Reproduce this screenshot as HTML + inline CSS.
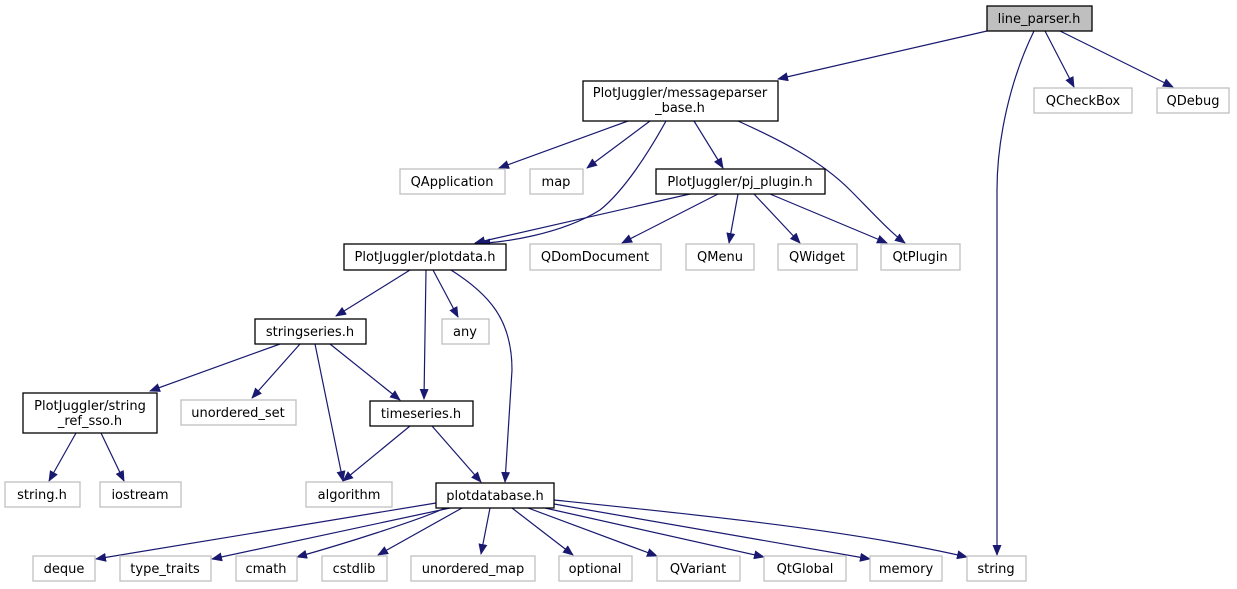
<!DOCTYPE html>
<html><head><meta charset="utf-8"><style>
html,body{margin:0;padding:0;background:#fff;}
svg{display:block;}
text{font-family:"DejaVu Sans","Liberation Sans",sans-serif;font-size:13px;fill:#000;text-anchor:middle;}
.b{fill:#fff;stroke:#000;stroke-width:1.3;}
.g{fill:#fff;stroke:#bfbfbf;stroke-width:1.3;}
.e{fill:none;stroke:#191970;stroke-width:1.2;marker-end:url(#a);}
</style></head><body>
<svg width="1237" height="589" viewBox="0 0 1237 589">
<defs><marker id="a" markerWidth="11" markerHeight="9" refX="10" refY="4.5" orient="auto" markerUnits="userSpaceOnUse"><path d="M0,0 L11,4.5 L0,9 z" fill="#191970"/></marker></defs>
<path class="e" d="M987,31 L778,79"/>
<path class="e" d="M1034,31 C1010,80 997,140 997,190 L997,555"/>
<path class="e" d="M1045,31 L1074,87"/>
<path class="e" d="M1060,31 L1173,87"/>
<path class="e" d="M628,121 L499,168"/>
<path class="e" d="M650,121 L587,168"/>
<path class="e" d="M666,121 C650,150 625,190 600,210 C560,235 500,243 480,243"/>
<path class="e" d="M694,121 L723,168"/>
<path class="e" d="M738,121 C780,140 820,160 850,190 C870,210 890,232 905,243"/>
<path class="e" d="M690,194 L475,243"/>
<path class="e" d="M718,194 L622,243"/>
<path class="e" d="M738,194 L729,243"/>
<path class="e" d="M754,194 L800,243"/>
<path class="e" d="M770,194 L887,243"/>
<path class="e" d="M410,270 L336,316"/>
<path class="e" d="M426,270 L424,399"/>
<path class="e" d="M433,270 L458,317"/>
<path class="e" d="M451,270 C490,295 512,320 512,370 L505,482"/>
<path class="e" d="M280,344 L150,391"/>
<path class="e" d="M300,344 L252,398"/>
<path class="e" d="M315,344 L343,481"/>
<path class="e" d="M330,344 L400,400"/>
<path class="e" d="M410,426 L343,481"/>
<path class="e" d="M432,426 L481,482"/>
<path class="e" d="M76,433 L49,481"/>
<path class="e" d="M101,433 L124,481"/>
<path class="e" d="M436,503 L96,559"/>
<path class="e" d="M450,508 L212,559"/>
<path class="e" d="M445,508 C420,520 340,545 297,557"/>
<path class="e" d="M462,508 L378,555"/>
<path class="e" d="M490,508 L481,554"/>
<path class="e" d="M512,508 L573,555"/>
<path class="e" d="M528,508 L657,556"/>
<path class="e" d="M545,508 L764,557"/>
<path class="e" d="M554,504 L870,559"/>
<path class="e" d="M554,500 C700,515 850,530 967,557"/>
<rect x="987" y="6" width="105" height="25" fill="#bfbfbf" stroke="#000" stroke-width="1.3"/><text x="1039" y="23">line_parser.h</text>
<rect class="b" x="583" y="81" width="195" height="40"/><text x="680" y="97">PlotJuggler/messageparser</text><text x="680" y="112">_base.h</text>
<rect class="g" x="1034" y="88" width="98" height="25"/><text x="1083" y="105">QCheckBox</text>
<rect class="g" x="1157" y="88" width="72" height="25"/><text x="1193" y="105">QDebug</text>
<rect class="g" x="400" y="169" width="105" height="25"/><text x="452" y="186">QApplication</text>
<rect class="g" x="530" y="169" width="53" height="25"/><text x="556" y="186">map</text>
<rect class="b" x="656" y="169" width="169" height="25"/><text x="740" y="186">PlotJuggler/pj_plugin.h</text>
<rect class="b" x="344" y="244" width="162" height="26"/><text x="425" y="261">PlotJuggler/plotdata.h</text>
<rect class="g" x="530" y="244" width="131" height="26"/><text x="595" y="261">QDomDocument</text>
<rect class="g" x="686" y="244" width="68" height="26"/><text x="720" y="261">QMenu</text>
<rect class="g" x="778" y="244" width="79" height="26"/><text x="817" y="261">QWidget</text>
<rect class="g" x="881" y="244" width="79" height="26"/><text x="920" y="261">QtPlugin</text>
<rect class="b" x="255" y="319" width="111" height="25"/><text x="310" y="336">stringseries.h</text>
<rect class="g" x="442" y="319" width="47" height="25"/><text x="465" y="336">any</text>
<rect class="b" x="23" y="393" width="134" height="40"/><text x="90" y="410">PlotJuggler/string</text><text x="90" y="425">_ref_sso.h</text>
<rect class="g" x="181" y="400" width="115" height="25"/><text x="238" y="417">unordered_set</text>
<rect class="b" x="370" y="401" width="103" height="25"/><text x="421" y="418">timeseries.h</text>
<rect class="g" x="5" y="482" width="75" height="25"/><text x="42" y="499">string.h</text>
<rect class="g" x="100" y="482" width="81" height="25"/><text x="140" y="499">iostream</text>
<rect class="g" x="306" y="482" width="86" height="25"/><text x="349" y="499">algorithm</text>
<rect class="b" x="436" y="483" width="118" height="25"/><text x="495" y="500">plotdatabase.h</text>
<rect class="g" x="33" y="556" width="62" height="25"/><text x="64" y="573">deque</text>
<rect class="g" x="120" y="556" width="91" height="25"/><text x="165" y="573">type_traits</text>
<rect class="g" x="236" y="556" width="61" height="25"/><text x="266" y="573">cmath</text>
<rect class="g" x="322" y="556" width="65" height="25"/><text x="354" y="573">cstdlib</text>
<rect class="g" x="411" y="556" width="124" height="25"/><text x="473" y="573">unordered_map</text>
<rect class="g" x="559" y="556" width="73" height="25"/><text x="595" y="573">optional</text>
<rect class="g" x="657" y="556" width="83" height="25"/><text x="698" y="573">QVariant</text>
<rect class="g" x="764" y="556" width="82" height="25"/><text x="805" y="573">QtGlobal</text>
<rect class="g" x="870" y="556" width="72" height="25"/><text x="906" y="573">memory</text>
<rect class="g" x="967" y="556" width="59" height="25"/><text x="996" y="573">string</text>
</svg>
</body></html>
